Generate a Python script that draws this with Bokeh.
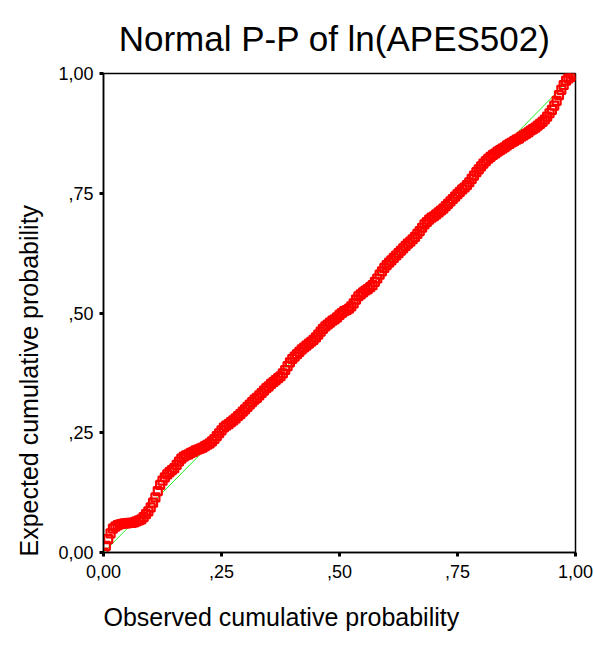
from bokeh.plotting import figure
from bokeh.models import Range1d, FixedTicker, ColumnDataSource, Title
from bokeh.embed import file_html
from bokeh.resources import INLINE

# Observed cumulative probability (x) and expected cumulative probability (y)
observed = [
    0.000, 0.005, 0.010, 0.015, 0.020, 0.025, 0.030, 0.035, 0.040, 0.045,
    0.050, 0.055, 0.060, 0.065, 0.070, 0.075, 0.080, 0.085, 0.090, 0.095,
    0.100, 0.105, 0.110, 0.115, 0.120, 0.125, 0.130, 0.135, 0.140, 0.145,
    0.150, 0.155, 0.160, 0.165, 0.170, 0.175, 0.180, 0.185, 0.190, 0.195,
    0.200, 0.205, 0.210, 0.215, 0.220, 0.225, 0.230, 0.235, 0.240, 0.245,
    0.250, 0.255, 0.260, 0.265, 0.270, 0.275, 0.280, 0.285, 0.290, 0.295,
    0.300, 0.305, 0.310, 0.315, 0.320, 0.325, 0.330, 0.335, 0.340, 0.345,
    0.350, 0.355, 0.360, 0.365, 0.370, 0.375, 0.380, 0.385, 0.390, 0.395,
    0.400, 0.405, 0.410, 0.415, 0.420, 0.425, 0.430, 0.435, 0.440, 0.445,
    0.450, 0.455, 0.460, 0.465, 0.470, 0.475, 0.480, 0.485, 0.490, 0.495,
    0.500, 0.505, 0.510, 0.515, 0.520, 0.525, 0.530, 0.535, 0.540, 0.545,
    0.550, 0.555, 0.560, 0.565, 0.570, 0.575, 0.580, 0.585, 0.590, 0.595,
    0.600, 0.605, 0.610, 0.615, 0.620, 0.625, 0.630, 0.635, 0.640, 0.645,
    0.650, 0.655, 0.660, 0.665, 0.670, 0.675, 0.680, 0.685, 0.690, 0.695,
    0.700, 0.705, 0.710, 0.715, 0.720, 0.725, 0.730, 0.735, 0.740, 0.745,
    0.750, 0.755, 0.760, 0.765, 0.770, 0.775, 0.780, 0.785, 0.790, 0.795,
    0.800, 0.805, 0.810, 0.815, 0.820, 0.825, 0.830, 0.835, 0.840, 0.845,
    0.850, 0.855, 0.860, 0.865, 0.870, 0.875, 0.880, 0.885, 0.890, 0.895,
    0.900, 0.905, 0.910, 0.915, 0.920, 0.925, 0.930, 0.935, 0.940, 0.945,
    0.950, 0.955, 0.960, 0.965, 0.970, 0.975, 0.980, 0.985, 0.990, 0.995,
    1.000,
]
expected = [
    0.000, 0.014, 0.028, 0.040, 0.050, 0.054, 0.057, 0.059, 0.060, 0.061,
    0.061, 0.062, 0.062, 0.063, 0.065, 0.067, 0.069, 0.074, 0.080, 0.086,
    0.094, 0.104, 0.115, 0.128, 0.141, 0.150, 0.157, 0.163, 0.168, 0.172,
    0.176, 0.183, 0.190, 0.196, 0.200, 0.203, 0.205, 0.208, 0.210, 0.213,
    0.215, 0.217, 0.219, 0.222, 0.225, 0.228, 0.232, 0.237, 0.243, 0.249,
    0.255, 0.261, 0.265, 0.268, 0.272, 0.276, 0.280, 0.285, 0.289, 0.294,
    0.299, 0.304, 0.309, 0.314, 0.319, 0.323, 0.328, 0.333, 0.338, 0.343,
    0.347, 0.352, 0.356, 0.360, 0.364, 0.368, 0.374, 0.381, 0.389, 0.397,
    0.404, 0.409, 0.414, 0.419, 0.424, 0.428, 0.432, 0.436, 0.440, 0.444,
    0.449, 0.455, 0.461, 0.467, 0.472, 0.476, 0.480, 0.484, 0.487, 0.491,
    0.496, 0.500, 0.504, 0.506, 0.509, 0.514, 0.520, 0.528, 0.535, 0.539,
    0.543, 0.547, 0.550, 0.554, 0.558, 0.565, 0.572, 0.580, 0.587, 0.594,
    0.600, 0.605, 0.610, 0.615, 0.620, 0.625, 0.630, 0.635, 0.640, 0.645,
    0.649, 0.654, 0.659, 0.665, 0.671, 0.678, 0.685, 0.690, 0.695, 0.699,
    0.702, 0.706, 0.710, 0.714, 0.718, 0.723, 0.728, 0.733, 0.738, 0.743,
    0.748, 0.753, 0.758, 0.762, 0.767, 0.773, 0.780, 0.787, 0.794, 0.800,
    0.806, 0.812, 0.817, 0.822, 0.826, 0.830, 0.833, 0.837, 0.840, 0.843,
    0.846, 0.850, 0.853, 0.856, 0.859, 0.862, 0.864, 0.868, 0.871, 0.874,
    0.877, 0.881, 0.884, 0.887, 0.891, 0.895, 0.899, 0.904, 0.910, 0.917,
    0.924, 0.933, 0.943, 0.955, 0.966, 0.976, 0.985, 0.990, 0.993, 0.997,
    1.000,
]
diag_x = [0.0, 1.0]
diag_y = [0.0, 1.0]
tick_values = [0.0, 0.25, 0.5, 0.75, 1.0]
tick_labels = ["0,00", ",25", ",50", ",75", "1,00"]

title_text = "Normal P-P of  ln(APES502)"
x_label = "Observed cumulative probability"
y_label = "Expected cumulative probability"

FONT = "Liberation Sans"

p = figure(width=594, height=651, output_backend="svg", toolbar_location=None,
           x_range=Range1d(0, 1), y_range=Range1d(0, 1))
p.min_border_left = 103
p.min_border_right = 19
p.min_border_top = 73
p.min_border_bottom = 99
p.background_fill_color = "white"
p.border_fill_color = "white"
p.outline_line_color = "black"
p.outline_line_width = 1.5
p.xgrid.visible = False
p.ygrid.visible = False

p.title.text = title_text
p.title.align = "center"
p.title.vertical_align = "top"
p.title.text_font = FONT
p.title.text_font_size = "35px"
p.title.text_font_style = "normal"
p.title.text_color = "black"
p.title.standoff = 28

for ax in (p.xaxis[0], p.yaxis[0]):
    ax.ticker = FixedTicker(ticks=tick_values)
    ax.major_label_overrides = {v: l for v, l in zip(tick_values, tick_labels)}
    ax.major_label_text_font = FONT
    ax.major_label_text_font_size = "18px"
    ax.major_label_text_color = "black"
    ax.axis_line_color = "black"
    ax.axis_line_width = 1.5
    ax.major_tick_line_color = "black"
    ax.major_tick_line_width = 3
    ax.major_tick_in = 0
    ax.major_tick_out = 4
    ax.minor_tick_line_color = None
p.xaxis[0].major_label_standoff = 8
p.yaxis[0].major_label_standoff = 6

p.add_layout(Title(text=x_label, align="left", vertical_align="bottom", text_font=FONT,
                   text_font_size="25px", text_font_style="normal", text_color="black",
                   standoff=40), "below")
p.add_layout(Title(text=y_label, align="left", vertical_align="top", text_font=FONT,
                   text_font_size="25px", text_font_style="normal", text_color="black",
                   standoff=22, offset=-4), "left")

p.line(diag_x, diag_y, line_color="#22ee22", line_width=1)

src = ColumnDataSource(data=dict(x=observed, y=expected))
p.scatter("x", "y", source=src, marker="square", size=8, fill_color=None,
          line_color="#ff0000", line_width=2.2)

open("out.html", "w").write(file_html(p, INLINE))
